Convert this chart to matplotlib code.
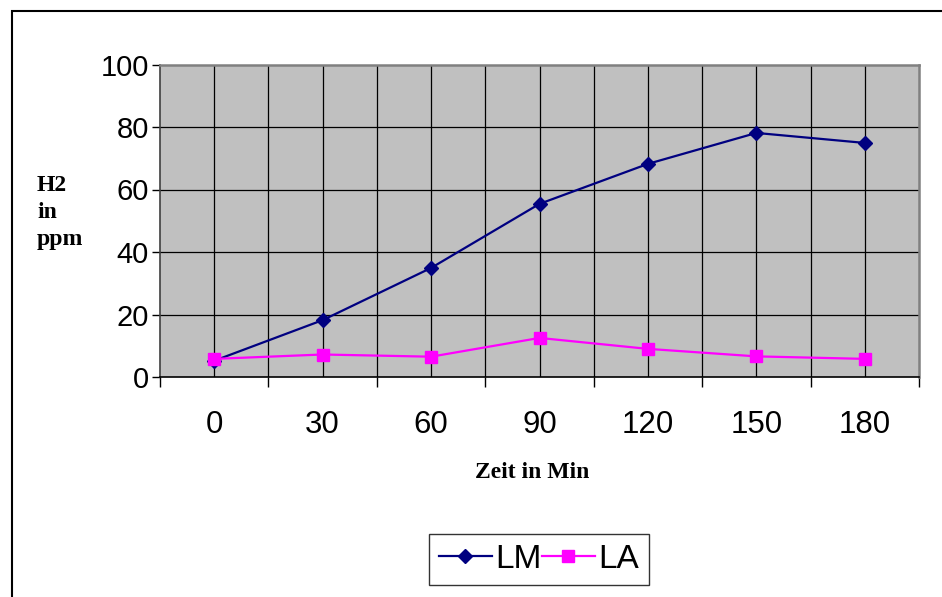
import matplotlib.pyplot as plt
from matplotlib.patches import Rectangle
from matplotlib.ticker import MultipleLocator

# data
zeit = ["0", "30", "60", "90", "120", "150", "180"]
lm = [5.2, 18.2, 34.9, 55.4, 68.2, 78.1, 74.9]
la = [5.8, 7.2, 6.5, 12.5, 9.0, 6.6, 5.8]
y_ticks = [0, 20, 40, 60, 80, 100]

C_LM = "#000080"
C_LA = "#FF00FF"
SANS = ["Liberation Sans", "DejaVu Sans"]
SERIF = ["Liberation Serif", "DejaVu Serif"]

W, H = 942, 597
fig = plt.figure(figsize=(W / 100, H / 100), dpi=100)
fig.patch.set_facecolor("white")

# outer chart border (runs off the right/bottom edge like the original)
fig.patches.append(Rectangle((12 / W, -0.05), 1.0, (H - 11) / H + 0.05,
                             transform=fig.transFigure, fill=False,
                             edgecolor="black", linewidth=1.5))

ax = fig.add_axes([160 / W, (H - 377) / H, (919 - 160) / W, (377 - 64.5) / H])
ax.set_facecolor("#C0C0C0")

x = list(range(len(zeit)))
ax.plot(x, lm, color=C_LM, linewidth=1.6, marker="D", markersize=7.5,
        markerfacecolor=C_LM, markeredgecolor=C_LM, label="LM", zorder=3)
ax.plot(x, la, color=C_LA, linewidth=1.6, marker="s", markersize=9,
        markerfacecolor=C_LA, markeredgecolor=C_LA, label="LA", zorder=3)

ax.set_xlim(-0.5, len(zeit) - 0.5)
ax.set_ylim(0, 100)

ax.set_xticks(x)
ax.set_xticklabels(zeit, family=SANS, fontsize=22.5)
ax.xaxis.set_minor_locator(MultipleLocator(1, offset=0.5))
ax.tick_params(axis="x", which="major", length=0, pad=24)
ax.tick_params(axis="x", which="minor", direction="out", length=7, width=1, color="black")
ax.set_yticks(y_ticks)
ax.set_yticklabels([str(v) for v in y_ticks], family=SANS, fontsize=21)
ax.tick_params(axis="y", direction="out", length=6, width=1, pad=2)

# grid: horizontal at y ticks, vertical every half category
for v in y_ticks[1:-1]:
    ax.axhline(v, color="black", linewidth=0.9, zorder=1)
for k in range(2 * len(zeit) - 1):
    ax.axvline(-0.5 + 0.5 * (k + 1), color="black", linewidth=0.9, zorder=1)

for s in ["top", "right"]:
    ax.spines[s].set_color("#808080")
    ax.spines[s].set_linewidth(1.8)
ax.spines["left"].set_color("#404040")
ax.spines["left"].set_linewidth(1.2)
ax.spines["bottom"].set_color("black")
ax.spines["bottom"].set_linewidth(1.2)

fig.text(37 / W, 1 - 175 / H, "H2\nin\nppm", family=SERIF, fontweight="bold",
         fontsize=17, ha="left", va="top", linespacing=1.38)
fig.text(532 / W, 1 - 472 / H, "Zeit in Min", family=SERIF, fontweight="bold",
         fontsize=17, ha="center", va="center")

leg = fig.legend(loc="center", bbox_to_anchor=(539 / W, 1 - 559 / H), ncol=2,
                 prop={"family": SANS, "size": 24}, frameon=True, fancybox=False,
                 handlelength=1.6, handletextpad=0.1, columnspacing=0.0,
                 borderpad=0.3, borderaxespad=0)
leg.get_frame().set_edgecolor("black")
leg.get_frame().set_linewidth(1.0)

fig.savefig("out.png", dpi=100)
